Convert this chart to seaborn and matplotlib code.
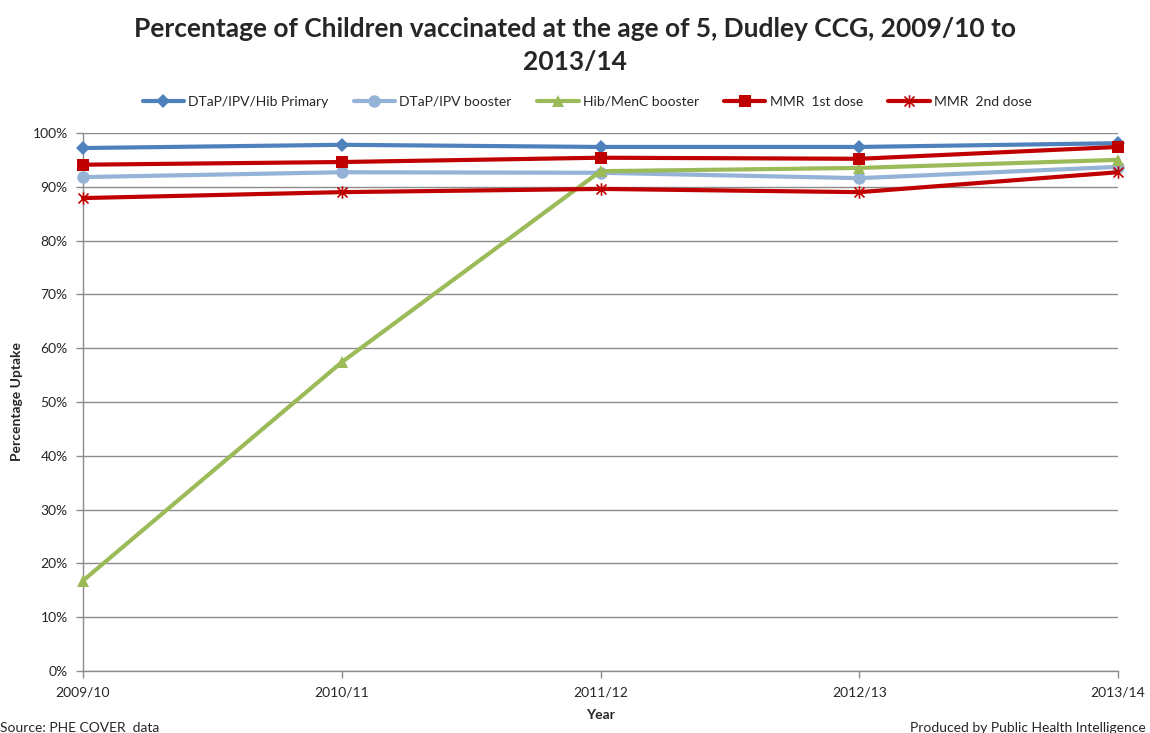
import matplotlib
matplotlib.use("Agg")
import matplotlib.pyplot as plt
from matplotlib.path import Path
import seaborn as sns
import pandas as pd

years = ["2009/10", "2010/11", "2011/12", "2012/13", "2013/14"]
series_names = ["DTaP/IPV/Hib Primary", "DTaP/IPV booster", "Hib/MenC booster",
                "MMR  1st dose", "MMR  2nd dose"]
dtap_primary = [97.2, 97.8, 97.4, 97.4, 98.1]
dtap_booster = [91.8, 92.7, 92.6, 91.6, 93.7]
hib_menc = [16.8, 57.4, 92.9, 93.5, 95.0]
mmr_1st = [94.1, 94.6, 95.4, 95.2, 97.4]
mmr_2nd = [87.9, 89.0, 89.6, 89.0, 92.7]
y_ticks = list(range(0, 101, 10))

# Excel-style asterisk: an "x" plus a vertical stroke
star_path = Path(
    [(-1, -1), (1, 1), (-1, 1), (1, -1), (0, -1.25), (0, 1.25)],
    [Path.MOVETO, Path.LINETO, Path.MOVETO, Path.LINETO, Path.MOVETO, Path.LINETO],
)

values = [dtap_primary, dtap_booster, hib_menc, mmr_1st, mmr_2nd]
colors = ["#4F81BD", "#95B3D7", "#9BBB59", "#C00000", "#C00000"]
markers = ["D", "o", "^", "s", star_path]
msizes = [7, 9, 9, 9, 9]

sns.set_theme(style="white")
plt.rcParams['font.family'] = ['Lato', 'DejaVu Sans']

fig = plt.figure(figsize=(11.5, 7.33), dpi=100)
ax = fig.add_axes([0.0722, 0.0846, 0.9, 0.734])

rows = []
for name, vals in zip(series_names, values):
    for i, v in enumerate(vals):
        rows.append({"x": i, "y": v, "series": name})
df = pd.DataFrame(rows)

for name, c, m, ms in zip(series_names, colors, markers, msizes):
    sub = df[df.series == name]
    is_star = isinstance(m, Path)
    sns.lineplot(data=sub, x="x", y="y", ax=ax, color=c, linewidth=3,
                 marker=m, markersize=ms, markeredgecolor=c,
                 markerfacecolor="none" if is_star else c,
                 markeredgewidth=1.2 if is_star else 0,
                 label=name, zorder=3, legend=False, clip_on=False)

ax.set_xlim(0, 4)
ax.set_ylim(0, 100)
ax.set_yticks(y_ticks)
ax.set_yticklabels([f"{t}%" for t in y_ticks], fontsize=10)
ax.set_xticks(range(len(years)))
ax.set_xticklabels(years, fontsize=10)
ax.yaxis.grid(True, color="#8C8C8C", linewidth=1)
ax.xaxis.grid(False)
for s in ["top", "right"]:
    ax.spines[s].set_visible(False)
for s in ["left", "bottom"]:
    ax.spines[s].set_color("#8C8C8C")
    ax.spines[s].set_linewidth(1)
ax.tick_params(axis="both", which="both", direction="out", length=5,
               color="#8C8C8C", width=1, bottom=True, left=True, pad=6)
ax.set_axisbelow(True)

ax.set_xlabel("Year", fontsize=10, fontweight="bold", labelpad=8)
ax.set_ylabel("Percentage Uptake", fontsize=10, fontweight="bold", labelpad=7)

fig.suptitle("Percentage of Children vaccinated at the age of 5, Dudley CCG, 2009/10 to\n2013/14",
             fontsize=19, fontweight="bold", y=0.977, x=0.5, linespacing=1.45)

ax.legend(loc="lower center", bbox_to_anchor=(0.487, 1.024), ncol=5, frameon=False,
          fontsize=10, handlelength=3, columnspacing=1.8, handletextpad=0.3)

fig.text(0.0, -0.002, "Source: PHE COVER  data", fontsize=10, ha="left", va="bottom")
fig.text(0.996, -0.002, "Produced by Public Health Intelligence", fontsize=10, ha="right", va="bottom")

fig.savefig("out.png", dpi=100)
